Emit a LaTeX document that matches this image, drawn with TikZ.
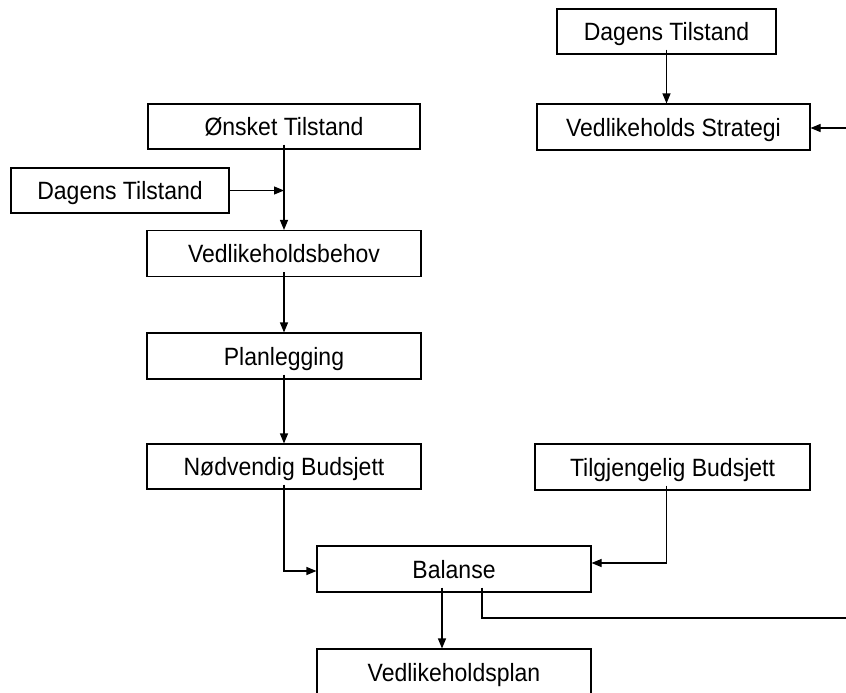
\documentclass[tikz,border=0pt]{standalone}
\usepackage{fontspec}
\setmainfont{Liberation Sans}[FakeStretch=0.92]
\usetikzlibrary{arrows.meta}

\tikzset{
  box/.style={draw=black, line width=1.1pt, fill=white, rectangle,
    minimum width=273pt, minimum height=45pt, inner sep=0pt,
    text height=18pt, text depth=0pt,
    font=\fontsize{25pt}{30pt}\selectfont},
  arr/.style={draw=black, line width=1.1pt,
    -{Triangle[length=10pt,width=8pt]}},
  frombox/.style={shorten <=-5pt}
}

\begin{document}
\begin{tikzpicture}[x=1pt, y=-1pt]
  \useasboundingbox (0,0) rectangle (846,693);
  \fill[white] (0,0) rectangle (846,693);
  \clip (0,0) rectangle (846,693);

  % right column
  \node[box, minimum width=219pt] (dtR) at (666.5,31.5) {Dagens Tilstand};
  \node[box, minimum height=46pt] (vs) at (673.5,127) {Vedlikeholds Strategi};
  \node[box, minimum width=275pt, minimum height=46pt] (tb) at (672.5,467) {Tilgjengelig Budsjett};

  % left column
  \node[box, minimum width=272pt] (ot) at (284,126.5) {Ønsket Tilstand};
  \node[box, minimum width=218pt] (dtL) at (120,190.5) {Dagens Tilstand};
  \node[box, minimum width=274pt, minimum height=46pt] (vb) at (284,253.5) {Vedlikeholdsbehov};
  \node[box, minimum width=274pt, minimum height=46pt] (pl) at (284,356) {Planlegging};
  \node[box, minimum width=274pt] (nb) at (284,466.5) {Nødvendig Budsjett};

  % bottom
  \node[box, minimum width=274pt, minimum height=46pt] (ba) at (454,569) {Balanse};
  \node[box, minimum width=274pt, minimum height=46pt] (vp) at (454,672) {Vedlikeholdsplan};

  % feedback loop turning point, outside the visible frame
  \coordinate (loopturn) at (880,618);

  % connectors
  \draw[arr, frombox] (dtR.south) -- (dtR.south |- vs.north);
  \draw[arr, frombox] ([xshift=28pt]ba.south) |- (loopturn) |- ([yshift=-1pt]vs.east);
  \draw[arr, frombox] (ot.south) -- (vb.north);
  \draw[arr] (dtL.east) -- (ot.south |- dtL.east);
  \draw[arr, frombox] (vb.south) -- (pl.north);
  \draw[arr, frombox] (pl.south) -- (nb.north);
  \draw[arr, frombox] (nb.south) |- ([yshift=-2pt]ba.west);
  \draw[arr, frombox] (dtR.south |- tb.south) |- ([yshift=6pt]ba.east);
  \draw[arr, frombox] ([xshift=-12pt]ba.south) -- ([xshift=-12pt]vp.north);
\end{tikzpicture}
\end{document}
